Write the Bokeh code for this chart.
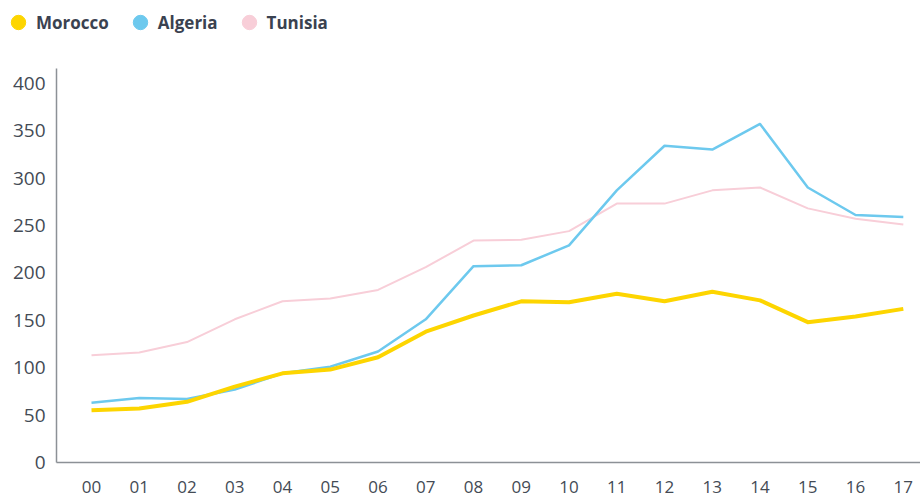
from bokeh.plotting import figure
from bokeh.models import Legend, LegendItem, FixedTicker, Range1d, ColumnDataSource
from bokeh.embed import file_html
from bokeh.resources import INLINE

years = list(range(18))
year_labels = ["00", "01", "02", "03", "04", "05", "06", "07", "08", "09",
               "10", "11", "12", "13", "14", "15", "16", "17"]
morocco = [55, 57, 64, 80, 94, 98, 111, 138, 155, 170, 169, 178, 170, 180, 171, 148, 154, 162]
algeria = [63, 68, 67, 77, 94, 101, 117, 151, 207, 208, 229, 287, 334, 330, 357, 290, 261, 259]
tunisia = [113, 116, 127, 151, 170, 173, 182, 206, 234, 235, 244, 273, 273, 287, 290, 268, 257, 251]

series_names = ["Morocco", "Algeria", "Tunisia"]
series_values = [morocco, algeria, tunisia]
colors = ["#FDD500", "#6DC9EE", "#F8CED8"]
widths = [4, 2.5, 2]
y_ticks = [0, 50, 100, 150, 200, 250, 300, 350, 400]

# ---- legend strip ----
leg = figure(width=920, height=44, output_backend="svg", toolbar_location=None,
             x_range=Range1d(0, 1), y_range=Range1d(0, 1),
             x_axis_location=None, y_axis_location=None,
             min_border=0, min_border_left=0, min_border_right=0,
             min_border_top=0, min_border_bottom=0)
leg.grid.visible = False
leg.outline_line_color = None

# ---- main chart ----
p = figure(width=920, height=453, output_backend="svg", toolbar_location=None,
           x_range=Range1d(-0.733, 17.36), y_range=Range1d(0, 440.8),
           min_border_left=56, min_border_right=0, min_border_top=0, min_border_bottom=35)
p.outline_line_color = None
p.grid.visible = False
p.background_fill_color = "white"
p.border_fill_color = "white"

markers = {}
for name, vals, col, w in reversed(list(zip(series_names, series_values, colors, widths))):
    src = ColumnDataSource(dict(x=years, y=vals))
    p.line("x", "y", source=src, line_color=col, line_width=w, line_join="round")
    markers[name] = leg.scatter(x=[float("nan")], y=[float("nan")], marker="circle",
                                size=16, fill_color=col, line_color=col)

items = [LegendItem(label=name, renderers=[markers[name]]) for name in series_names]
legend = Legend(items=items, orientation="horizontal", location=(0, 2),
                label_text_font="Open Sans", label_text_font_size="17px",
                label_text_font_style="bold", label_text_color="#3A4250",
                glyph_width=36, glyph_height=40, label_standoff=0, spacing=13,
                border_line_color=None, background_fill_alpha=0,
                padding=0, margin=0)
leg.add_layout(legend, "center")

for ax in (p.xaxis[0], p.yaxis[0]):
    ax.axis_line_color = "#8C9196"
    ax.axis_line_width = 1.5
    ax.major_tick_line_color = None
    ax.minor_tick_line_color = None
    ax.major_label_text_font = "Open Sans"
    ax.major_label_text_color = "#444B55"

p.yaxis.bounds = (0, 415.5)
p.xaxis.ticker = FixedTicker(ticks=years)
p.xaxis.major_label_overrides = {y: l for y, l in zip(years, year_labels)}
p.xaxis.major_label_text_font_size = "17px"
p.xaxis.major_label_standoff = 12
p.yaxis.ticker = FixedTicker(ticks=y_ticks)
p.yaxis.major_label_text_font_size = "19px"
p.yaxis.major_label_standoff = 5

open("out.html", "w").write(file_html([leg, p], INLINE))
